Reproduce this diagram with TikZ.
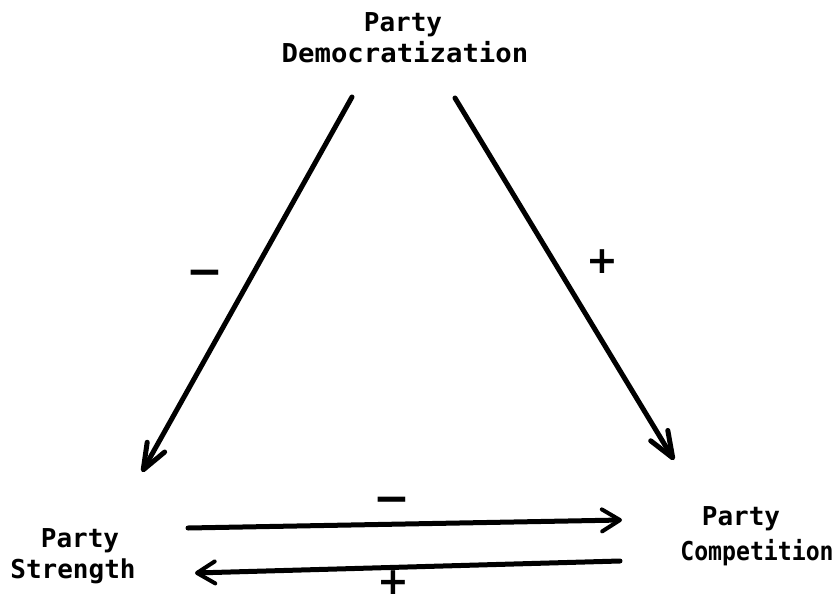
\documentclass[tikz,border=0pt]{standalone}
\usepackage{fontspec}
\usepackage{graphicx}
\newfontfamily\typefont{DejaVu Sans Mono}
\newfontfamily\signfont{DejaVu Sans}
\usetikzlibrary{arrows.meta}
\begin{document}
\begin{tikzpicture}[x=1pt,y=-1pt,
  lab/.style={inner sep=0pt, anchor=base, font=\typefont\bfseries\fontsize{26}{31}\selectfont},
  sign/.style={inner sep=0pt, anchor=base, font=\signfont\bfseries\fontsize{44}{44}\selectfont},
  plussign/.style={sign, font=\signfont\bfseries\fontsize{38}{38}\selectfont},
  link/.style={line width=5pt, line cap=round, line join=round},
  bigtip/.style={-{Straight Barb[length=26pt,width=20pt,line width=5pt,round]}},
  smalltip/.style={-{Straight Barb[length=18pt,width=22pt,line width=4pt,round]}},
]
\useasboundingbox[fill=white] (0,0) rectangle (838,602);

\node[lab] (demA) at (403,32) {Party};
\node[lab] (demB) at (405,63) {\scalebox{1.05}[1]{Democratization}};
\node[lab] (strA) at (80,547) {Party};
\node[lab] (strB) at (73,578) {Strength};
\node[lab] (comA) at (741,525) {Party};
\node[lab] (comB) at (757,560) {\scalebox{0.89}[1]{Competition}};

\coordinate (d1) at (352,97);  \coordinate (s1) at (142,472);
\coordinate (d2) at (455,98);  \coordinate (c1) at (674,460);
\coordinate (s2) at (188,528); \coordinate (c2) at (622,520);
\coordinate (c3) at (620,561); \coordinate (s3) at (195,573);

\draw[link,bigtip] (d1) -- (s1);
\draw[link,bigtip] (d2) -- (c1);
\draw[link,smalltip] (s2) -- (c2);
\draw[link,smalltip] (c3) -- (s3);

\node[sign] (m1) at (205,286) {−};
\node[plussign] (p1) at (602,273) {+};
\node[sign] (m2) at (392,513) {−};
\node[plussign] (p2) at (393,594) {+};
\end{tikzpicture}
\end{document}
